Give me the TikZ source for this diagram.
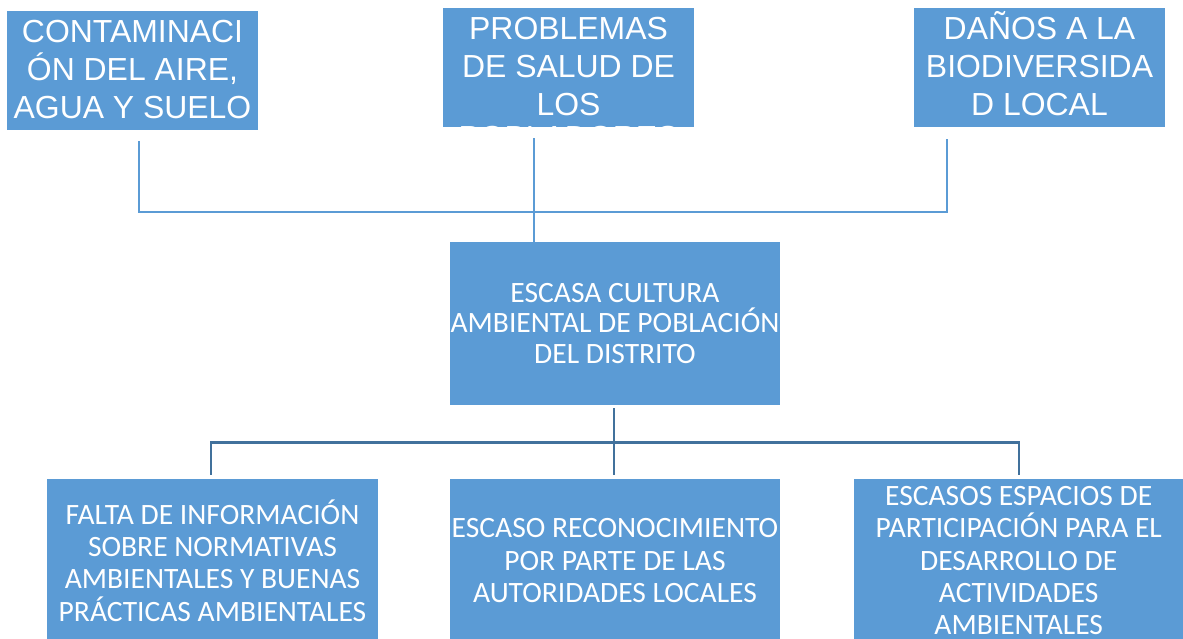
\documentclass[tikz,border=0pt]{standalone}
\usepackage{fontspec}
\setmainfont{Carlito}
\newfontfamily\arial{Liberation Sans}
\usepackage{tikz}
\usetikzlibrary{positioning,calc}

\definecolor{cajaazul}{HTML}{5B9BD5}
\definecolor{lineaazul}{HTML}{41719C}

% texto de las cajas de arriba, pegado arriba
\newcommand{\efecto}[1]{\arial\fontsize{22.7}{27}\selectfont
  \parbox[c][2.975cm][t]{6.275cm}{\centering\rule{0pt}{22.5pt}#1}}

\begin{document}
\begin{tikzpicture}[x=0.025cm, y=-0.025cm, node distance=5.925cm,
    caja/.style={rectangle, fill=cajaazul, text=white, inner sep=0pt},
    cajaarriba/.style={caja},
    cajaabajo/.style={caja, minimum width=8.25cm, minimum height=4.075cm,
      align=center, font=\fontsize{21}{23}\selectfont},
    lineaarriba/.style={draw=cajaazul, line width=1.5pt},
    lineaabajo/.style={draw=lineaazul, line width=1.8pt}]
    \clip (0,0) rectangle (1183,638);
    \node[cajaarriba] (contam) at (132.5,70.5) {\efecto{CONTAMINACI\\ÓN DEL AIRE,\\AGUA Y SUELO}};
    \node[cajaarriba] (salud) at (568.5,67.5) {\efecto{PROBLEMAS\\DE SALUD DE\\LOS\\[-3.5pt]POBLADORES}};
    \node[cajaarriba] (danos) at (1039.5,67.5) {\efecto{DAÑOS A LA\\BIODIVERSIDA\\D LOCAL}};
    \node[cajaabajo, font=\fontsize{21}{22}\selectfont] (centro) at (615,323.5) {ESCASA CULTURA\\AMBIENTAL DE POBLACIÓN\\DEL DISTRITO};
    \node[cajaabajo] (medio) [below of=centro] {ESCASO RECONOCIMIENTO\\POR PARTE DE LAS\\AUTORIDADES LOCALES};
    \node[cajaabajo] (izq) [left of=medio, node distance=10.06cm] {FALTA DE INFORMACIÓN\\SOBRE NORMATIVAS\\AMBIENTALES Y BUENAS\\PRÁCTICAS AMBIENTALES};
    \node[cajaabajo] (der) [right of=medio, node distance=10.09cm] {ESCASOS ESPACIOS DE\\PARTICIPACIÓN PARA EL\\DESARROLLO DE\\ACTIVIDADES\\AMBIENTALES};

    % efectos
    \coordinate (e1) at ($(contam.south)+(6.5,11)$);
    \coordinate (e2) at ($(salud.south)+(-34.5,11)$);
    \coordinate (e3) at ($(danos.south)+(-92.5,12)$);
    \coordinate (union) at ($(centro.north)+(-81,-30)$);
    \draw[lineaarriba] (e1) |- (union) -| (e3);
    \draw[lineaarriba] (e2) -- (e2 |- centro.north);

    % causas
    \coordinate (nudo) at ($(centro.south)+(-1,37)$);
    \draw[lineaabajo] ($(izq.north)+(-1.5,-4)$) |- (nudo) -| ($(der.north)+(0.5,-4)$);
    \draw[lineaabajo] ($(centro.south)+(-1,3)$) -- ($(medio.north)+(-1,-4)$);
\end{tikzpicture}
\end{document}
